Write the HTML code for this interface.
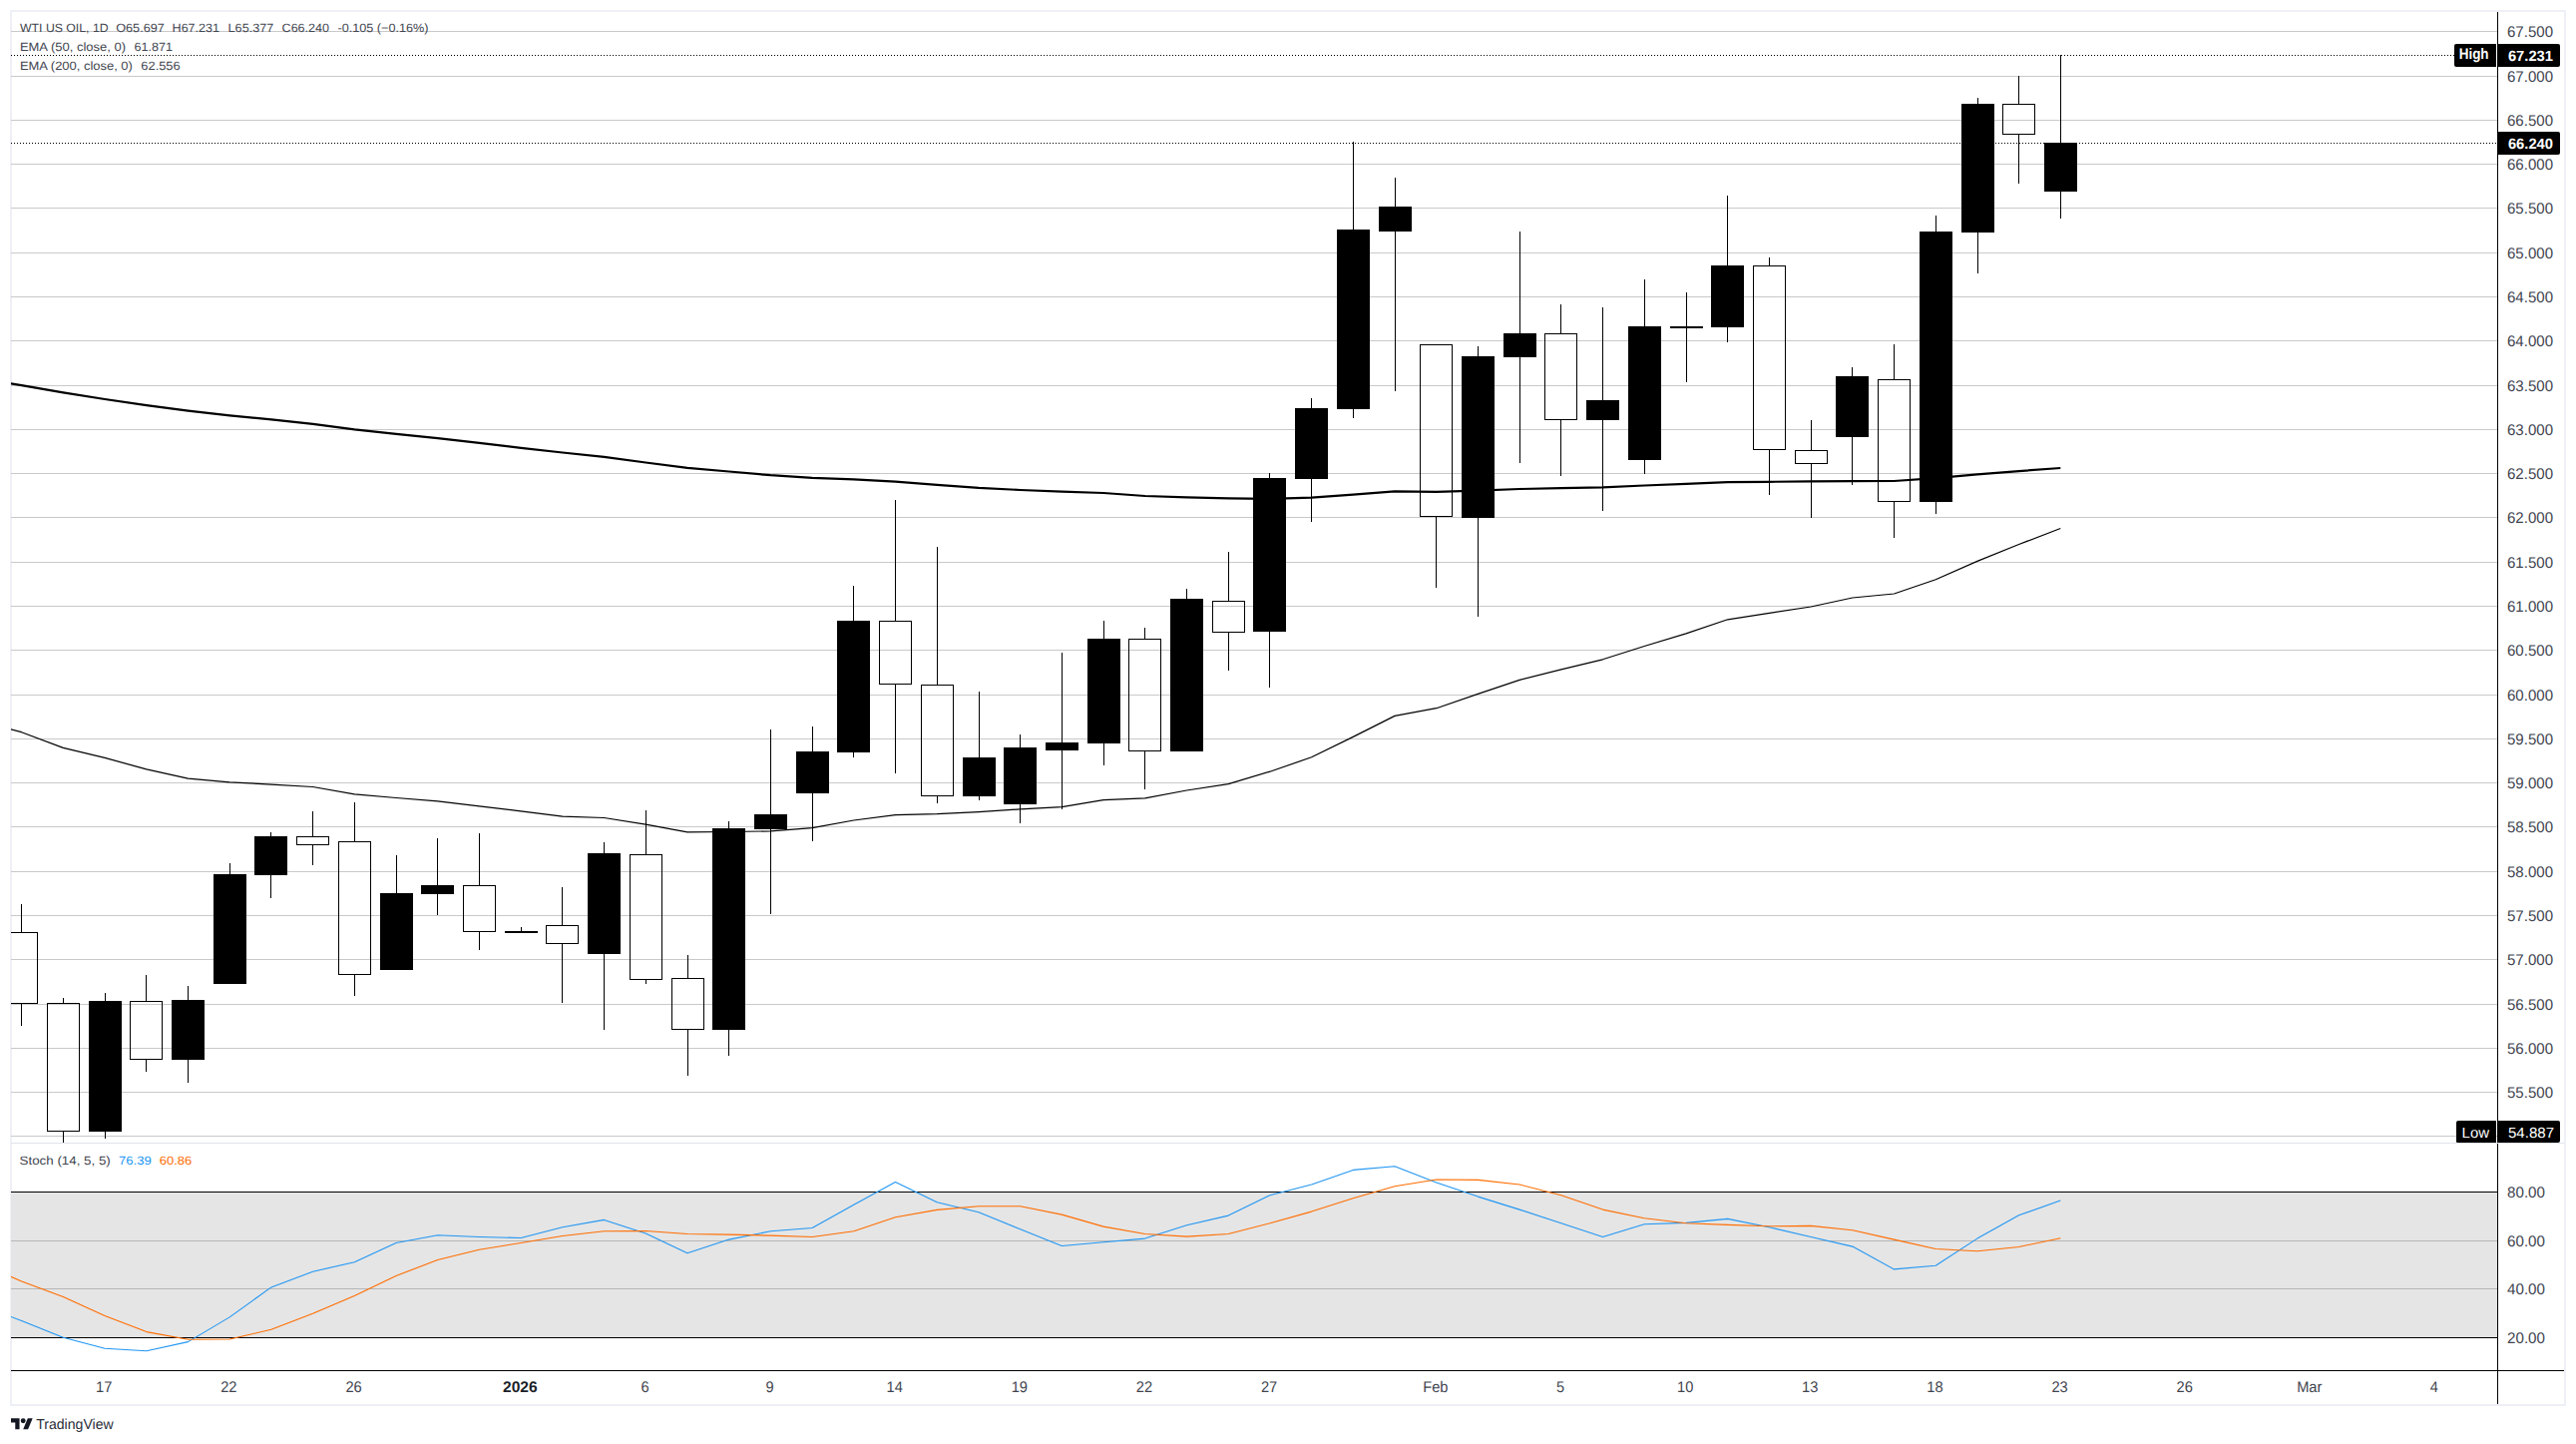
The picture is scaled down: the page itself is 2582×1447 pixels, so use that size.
<!DOCTYPE html>
<html lang="en"><head><meta charset="utf-8"><title>WTI US OIL, 1D</title>
<style>html,body{margin:0;padding:0;background:#fff}body{width:2582px;height:1447px;overflow:hidden}svg{display:block;text-rendering:geometricPrecision}text{font-family:"Liberation Sans", "DejaVu Sans", sans-serif;text-rendering:geometricPrecision}</style>
</head><body>
<svg width="2582" height="1447" viewBox="0 0 2582 1447">
<rect width="2582" height="1447" fill="#fff"/>
<defs><clipPath id="cp"><rect x="11" y="12" width="2492" height="1133"/></clipPath><clipPath id="cs"><rect x="11" y="1146" width="2492" height="227"/></clipPath></defs>
<g shape-rendering="crispEdges" fill="#eff0f5">
<rect x="10" y="10" width="2562" height="2"/>
<rect x="10" y="1407" width="2562" height="2"/>
<rect x="10" y="10" width="2" height="1399"/>
<rect x="2570" y="10" width="2" height="1399"/>
</g>
<g shape-rendering="crispEdges" fill="#c9c9c9">
<rect x="11" y="31" width="2492" height="1"/>
<rect x="11" y="76" width="2492" height="1"/>
<rect x="11" y="120" width="2492" height="1"/>
<rect x="11" y="164" width="2492" height="1"/>
<rect x="11" y="208" width="2492" height="1"/>
<rect x="11" y="253" width="2492" height="1"/>
<rect x="11" y="297" width="2492" height="1"/>
<rect x="11" y="341" width="2492" height="1"/>
<rect x="11" y="386" width="2492" height="1"/>
<rect x="11" y="430" width="2492" height="1"/>
<rect x="11" y="474" width="2492" height="1"/>
<rect x="11" y="518" width="2492" height="1"/>
<rect x="11" y="563" width="2492" height="1"/>
<rect x="11" y="607" width="2492" height="1"/>
<rect x="11" y="651" width="2492" height="1"/>
<rect x="11" y="696" width="2492" height="1"/>
<rect x="11" y="740" width="2492" height="1"/>
<rect x="11" y="784" width="2492" height="1"/>
<rect x="11" y="828" width="2492" height="1"/>
<rect x="11" y="873" width="2492" height="1"/>
<rect x="11" y="917" width="2492" height="1"/>
<rect x="11" y="961" width="2492" height="1"/>
<rect x="11" y="1006" width="2492" height="1"/>
<rect x="11" y="1050" width="2492" height="1"/>
<rect x="11" y="1094" width="2492" height="1"/>
<rect x="11" y="1138" width="2492" height="1"/>
</g>
<g>
<text x="20.0" y="32.0" font-size="12" fill="#42454f" textLength="88.6" lengthAdjust="spacingAndGlyphs">WTI US OIL, 1D</text>
<text x="116.2" y="32.0" font-size="12" fill="#42454f" textLength="48.6" lengthAdjust="spacingAndGlyphs">O65.697</text>
<text x="172.6" y="32.0" font-size="12" fill="#42454f" textLength="47.4" lengthAdjust="spacingAndGlyphs">H67.231</text>
<text x="228.6" y="32.0" font-size="12" fill="#42454f" textLength="45.7" lengthAdjust="spacingAndGlyphs">L65.377</text>
<text x="282.6" y="32.0" font-size="12" fill="#42454f" textLength="47.4" lengthAdjust="spacingAndGlyphs">C66.240</text>
<text x="338.6" y="32.0" font-size="12" fill="#42454f" textLength="90.8" lengthAdjust="spacingAndGlyphs">-0.105 (−0.16%)</text>
<text x="19.9" y="50.7" font-size="12" fill="#42454f" textLength="106.1" lengthAdjust="spacingAndGlyphs">EMA (50, close, 0)</text>
<text x="134.4" y="50.7" font-size="12" fill="#42454f" textLength="38.6" lengthAdjust="spacingAndGlyphs">61.871</text>
<text x="19.9" y="69.8" font-size="12" fill="#42454f" textLength="113.0" lengthAdjust="spacingAndGlyphs">EMA (200, close, 0)</text>
<text x="141.3" y="69.8" font-size="12" fill="#42454f" textLength="39.4" lengthAdjust="spacingAndGlyphs">62.556</text>
</g>
<g shape-rendering="crispEdges">
<rect x="11" y="1194" width="2492" height="146" fill="#e5e5e5"/>
<rect x="11" y="1243" width="2492" height="1" fill="#b6b6b6"/>
<rect x="11" y="1291" width="2492" height="1" fill="#b6b6b6"/>
<rect x="11" y="1194" width="2492" height="1" fill="#000"/>
<rect x="11" y="1340" width="2492" height="1" fill="#000"/>
</g>
<g shape-rendering="crispEdges" stroke="#000" stroke-width="1" stroke-dasharray="1 2">
<line x1="11" y1="55.5" x2="2461" y2="55.5"/>
<line x1="11" y1="143.5" x2="2503" y2="143.5"/>
</g>
<g clip-path="url(#cp)" shape-rendering="crispEdges">
<rect x="21" y="906" width="1" height="28" fill="#000"/>
<rect x="21" y="1006" width="1" height="22" fill="#000"/>
<rect x="5.5" y="934.5" width="32" height="71" fill="none" stroke="#000" stroke-width="1"/>
<rect x="63" y="1000" width="1" height="5" fill="#000"/>
<rect x="63" y="1134" width="1" height="11" fill="#000"/>
<rect x="47.5" y="1005.5" width="32" height="128" fill="none" stroke="#000" stroke-width="1"/>
<rect x="105" y="995" width="1" height="146" fill="#000"/>
<rect x="89" y="1003" width="33" height="131" fill="#000"/>
<rect x="146" y="977" width="1" height="26" fill="#000"/>
<rect x="146" y="1062" width="1" height="12" fill="#000"/>
<rect x="130.5" y="1003.5" width="32" height="58" fill="none" stroke="#000" stroke-width="1"/>
<rect x="188" y="988" width="1" height="97" fill="#000"/>
<rect x="172" y="1002" width="33" height="60" fill="#000"/>
<rect x="230" y="865" width="1" height="121" fill="#000"/>
<rect x="214" y="876" width="33" height="110" fill="#000"/>
<rect x="271" y="834" width="1" height="66" fill="#000"/>
<rect x="255" y="838" width="33" height="39" fill="#000"/>
<rect x="313" y="813" width="1" height="25" fill="#000"/>
<rect x="313" y="847" width="1" height="20" fill="#000"/>
<rect x="297.5" y="838.5" width="32" height="8" fill="none" stroke="#000" stroke-width="1"/>
<rect x="355" y="804" width="1" height="39" fill="#000"/>
<rect x="355" y="977" width="1" height="21" fill="#000"/>
<rect x="339.5" y="843.5" width="32" height="133" fill="none" stroke="#000" stroke-width="1"/>
<rect x="397" y="857" width="1" height="115" fill="#000"/>
<rect x="381" y="895" width="33" height="77" fill="#000"/>
<rect x="438" y="840" width="1" height="77" fill="#000"/>
<rect x="422" y="887" width="33" height="9" fill="#000"/>
<rect x="480" y="835" width="1" height="52" fill="#000"/>
<rect x="480" y="934" width="1" height="18" fill="#000"/>
<rect x="464.5" y="887.5" width="32" height="46" fill="none" stroke="#000" stroke-width="1"/>
<rect x="522" y="929" width="1" height="6" fill="#000"/>
<rect x="506" y="933" width="33" height="2" fill="#000"/>
<rect x="563" y="889" width="1" height="38" fill="#000"/>
<rect x="563" y="946" width="1" height="59" fill="#000"/>
<rect x="547.5" y="927.5" width="32" height="18" fill="none" stroke="#000" stroke-width="1"/>
<rect x="605" y="844" width="1" height="188" fill="#000"/>
<rect x="589" y="855" width="33" height="101" fill="#000"/>
<rect x="647" y="812" width="1" height="44" fill="#000"/>
<rect x="647" y="982" width="1" height="4" fill="#000"/>
<rect x="631.5" y="856.5" width="32" height="125" fill="none" stroke="#000" stroke-width="1"/>
<rect x="689" y="957" width="1" height="23" fill="#000"/>
<rect x="689" y="1032" width="1" height="46" fill="#000"/>
<rect x="673.5" y="980.5" width="32" height="51" fill="none" stroke="#000" stroke-width="1"/>
<rect x="730" y="823" width="1" height="235" fill="#000"/>
<rect x="714" y="830" width="33" height="202" fill="#000"/>
<rect x="772" y="731" width="1" height="185" fill="#000"/>
<rect x="756" y="816" width="33" height="15" fill="#000"/>
<rect x="814" y="728" width="1" height="115" fill="#000"/>
<rect x="798" y="753" width="33" height="42" fill="#000"/>
<rect x="855" y="587" width="1" height="172" fill="#000"/>
<rect x="839" y="622" width="33" height="132" fill="#000"/>
<rect x="897" y="501" width="1" height="121" fill="#000"/>
<rect x="897" y="686" width="1" height="89" fill="#000"/>
<rect x="881.5" y="622.5" width="32" height="63" fill="none" stroke="#000" stroke-width="1"/>
<rect x="939" y="548" width="1" height="138" fill="#000"/>
<rect x="939" y="798" width="1" height="7" fill="#000"/>
<rect x="923.5" y="686.5" width="32" height="111" fill="none" stroke="#000" stroke-width="1"/>
<rect x="981" y="693" width="1" height="109" fill="#000"/>
<rect x="965" y="759" width="33" height="39" fill="#000"/>
<rect x="1022" y="736" width="1" height="89" fill="#000"/>
<rect x="1006" y="749" width="33" height="57" fill="#000"/>
<rect x="1064" y="654" width="1" height="157" fill="#000"/>
<rect x="1048" y="744" width="33" height="8" fill="#000"/>
<rect x="1106" y="622" width="1" height="145" fill="#000"/>
<rect x="1090" y="640" width="33" height="105" fill="#000"/>
<rect x="1147" y="629" width="1" height="11" fill="#000"/>
<rect x="1147" y="753" width="1" height="38" fill="#000"/>
<rect x="1131.5" y="640.5" width="32" height="112" fill="none" stroke="#000" stroke-width="1"/>
<rect x="1189" y="590" width="1" height="163" fill="#000"/>
<rect x="1173" y="600" width="33" height="153" fill="#000"/>
<rect x="1231" y="553" width="1" height="49" fill="#000"/>
<rect x="1231" y="634" width="1" height="38" fill="#000"/>
<rect x="1215.5" y="602.5" width="32" height="31" fill="none" stroke="#000" stroke-width="1"/>
<rect x="1272" y="474" width="1" height="215" fill="#000"/>
<rect x="1256" y="479" width="33" height="154" fill="#000"/>
<rect x="1314" y="399" width="1" height="124" fill="#000"/>
<rect x="1298" y="409" width="33" height="71" fill="#000"/>
<rect x="1356" y="142" width="1" height="277" fill="#000"/>
<rect x="1340" y="230" width="33" height="180" fill="#000"/>
<rect x="1398" y="178" width="1" height="214" fill="#000"/>
<rect x="1382" y="207" width="33" height="25" fill="#000"/>
<rect x="1439" y="518" width="1" height="71" fill="#000"/>
<rect x="1423.5" y="345.5" width="32" height="172" fill="none" stroke="#000" stroke-width="1"/>
<rect x="1481" y="347" width="1" height="271" fill="#000"/>
<rect x="1465" y="357" width="33" height="162" fill="#000"/>
<rect x="1523" y="232" width="1" height="232" fill="#000"/>
<rect x="1507" y="334" width="33" height="24" fill="#000"/>
<rect x="1564" y="305" width="1" height="29" fill="#000"/>
<rect x="1564" y="421" width="1" height="56" fill="#000"/>
<rect x="1548.5" y="334.5" width="32" height="86" fill="none" stroke="#000" stroke-width="1"/>
<rect x="1606" y="308" width="1" height="204" fill="#000"/>
<rect x="1590" y="401" width="33" height="20" fill="#000"/>
<rect x="1648" y="280" width="1" height="195" fill="#000"/>
<rect x="1632" y="327" width="33" height="134" fill="#000"/>
<rect x="1690" y="293" width="1" height="90" fill="#000"/>
<rect x="1674" y="327" width="33" height="2" fill="#000"/>
<rect x="1731" y="196" width="1" height="147" fill="#000"/>
<rect x="1715" y="266" width="33" height="62" fill="#000"/>
<rect x="1773" y="258" width="1" height="8" fill="#000"/>
<rect x="1773" y="451" width="1" height="45" fill="#000"/>
<rect x="1757.5" y="266.5" width="32" height="184" fill="none" stroke="#000" stroke-width="1"/>
<rect x="1815" y="421" width="1" height="30" fill="#000"/>
<rect x="1815" y="465" width="1" height="54" fill="#000"/>
<rect x="1799.5" y="451.5" width="32" height="13" fill="none" stroke="#000" stroke-width="1"/>
<rect x="1856" y="368" width="1" height="118" fill="#000"/>
<rect x="1840" y="377" width="33" height="61" fill="#000"/>
<rect x="1898" y="345" width="1" height="35" fill="#000"/>
<rect x="1898" y="503" width="1" height="36" fill="#000"/>
<rect x="1882.5" y="380.5" width="32" height="122" fill="none" stroke="#000" stroke-width="1"/>
<rect x="1940" y="216" width="1" height="299" fill="#000"/>
<rect x="1924" y="232" width="33" height="271" fill="#000"/>
<rect x="1982" y="98" width="1" height="176" fill="#000"/>
<rect x="1966" y="104" width="33" height="129" fill="#000"/>
<rect x="2023" y="76" width="1" height="28" fill="#000"/>
<rect x="2023" y="135" width="1" height="49" fill="#000"/>
<rect x="2007.5" y="104.5" width="32" height="30" fill="none" stroke="#000" stroke-width="1"/>
<rect x="2065" y="55" width="1" height="164" fill="#000"/>
<rect x="2049" y="143" width="33" height="49" fill="#000"/>
</g>
<g clip-path="url(#cp)">
<polyline fill="none" stroke="#000" stroke-width="1.2" stroke-linejoin="round" points="10.5,730.7 21.6,733.7 63.3,749.4 105.0,759.4 146.8,770.8 188.5,780.1 230.2,783.8 271.9,786.1 313.6,788.5 355.3,795.8 397.0,799.5 438.7,802.8 480.4,807.8 522.1,812.8 563.8,818.2 605.5,819.5 647.2,826.2 689.0,833.9 730.7,833.5 772.4,832.9 814.1,829.7 855.8,822.0 897.5,816.6 939.2,815.6 980.9,813.6 1022.6,810.9 1064.3,808.7 1106.0,801.7 1147.7,799.8 1189.5,792.0 1231.2,785.6 1272.9,773.2 1314.6,758.8 1356.3,738.4 1398.0,717.4 1439.7,709.7 1481.4,695.4 1523.1,681.4 1564.8,670.9 1606.5,660.8 1648.2,647.5 1690.0,634.9 1731.7,620.8 1773.4,614.3 1815.1,608.0 1856.8,599.0 1898.5,595.0 1940.2,580.8 1981.9,562.4 2023.6,545.5 2065.3,529.5"/>
<polyline fill="none" stroke="#000" stroke-width="2.2" stroke-linejoin="round" points="10.5,384.2 21.6,386.2 63.3,393.4 105.0,400.0 146.8,406.1 188.5,411.7 230.2,416.4 271.9,420.4 313.6,424.8 355.3,430.4 397.0,434.8 438.7,439.1 480.4,443.8 522.1,448.8 563.8,453.5 605.5,457.8 647.2,463.5 689.0,468.8 730.7,472.5 772.4,476.2 814.1,478.8 855.8,480.3 897.5,482.7 939.2,485.8 980.9,488.9 1022.6,491.0 1064.3,492.7 1106.0,494.0 1147.7,497.0 1189.5,498.3 1231.2,499.4 1272.9,499.9 1314.6,498.7 1356.3,495.6 1398.0,492.4 1439.7,492.8 1481.4,491.6 1523.1,490.0 1564.8,489.2 1606.5,488.4 1648.2,486.5 1690.0,484.9 1731.7,483.2 1773.4,482.8 1815.1,482.4 1856.8,482.2 1898.5,482.0 1940.2,479.2 1981.9,475.3 2023.6,472.1 2065.3,469.0"/>
</g>
<g clip-path="url(#cs)">
<polyline fill="none" stroke="#2196f3" stroke-width="1.1" stroke-linejoin="round" points="10.5,1319.3 21.6,1323.6 63.3,1340.3 105.0,1351.3 146.8,1353.7 188.5,1344.6 230.2,1319.9 271.9,1289.9 313.6,1274.2 355.3,1264.8 397.0,1245.5 438.7,1237.8 480.4,1239.5 522.1,1240.5 563.8,1229.8 605.5,1222.4 647.2,1236.1 689.0,1255.8 730.7,1242.1 772.4,1233.8 814.1,1230.5 855.8,1207.2 897.5,1184.4 939.2,1204.7 980.9,1214.8 1022.6,1231.8 1064.3,1248.5 1106.0,1244.8 1147.7,1241.1 1189.5,1227.8 1231.2,1218.1 1272.9,1197.7 1314.6,1187.0 1356.3,1172.4 1398.0,1168.7 1439.7,1185.0 1481.4,1199.1 1523.1,1212.1 1564.8,1225.8 1606.5,1239.5 1648.2,1226.8 1690.0,1225.4 1731.7,1221.4 1773.4,1229.8 1815.1,1239.5 1856.8,1249.1 1898.5,1271.9 1940.2,1268.2 1981.9,1241.1 2023.6,1217.8 2065.3,1202.9"/>
<polyline fill="none" stroke="#ff6d00" stroke-width="1.1" stroke-linejoin="round" points="10.5,1279.1 21.6,1283.9 63.3,1299.6 105.0,1318.6 146.8,1334.6 188.5,1342.3 230.2,1342.0 271.9,1332.3 313.6,1316.3 355.3,1298.6 397.0,1278.5 438.7,1262.5 480.4,1252.2 522.1,1245.5 563.8,1238.5 605.5,1233.8 647.2,1233.5 689.0,1236.5 730.7,1237.1 772.4,1238.1 814.1,1239.5 855.8,1233.8 897.5,1219.8 939.2,1212.4 980.9,1208.7 1022.6,1208.7 1064.3,1217.1 1106.0,1229.1 1147.7,1236.5 1189.5,1239.1 1231.2,1236.5 1272.9,1225.8 1314.6,1214.1 1356.3,1200.7 1398.0,1188.7 1439.7,1182.0 1481.4,1182.4 1523.1,1187.0 1564.8,1197.7 1606.5,1212.1 1648.2,1220.8 1690.0,1225.8 1731.7,1227.4 1773.4,1228.8 1815.1,1228.4 1856.8,1232.8 1898.5,1242.1 1940.2,1251.5 1981.9,1253.8 2023.6,1249.5 2065.3,1240.7"/>
</g>
<text x="19.6" y="1166.8" font-size="12" fill="#42454f" textLength="91.2" lengthAdjust="spacingAndGlyphs">Stoch (14, 5, 5)</text>
<text x="119.0" y="1166.8" font-size="12" fill="#2196f3" textLength="32.8" lengthAdjust="spacingAndGlyphs">76.39</text>
<text x="159.7" y="1166.8" font-size="12" fill="#ff6d00" textLength="32.6" lengthAdjust="spacingAndGlyphs">60.86</text>
<g shape-rendering="crispEdges" fill="#000">
<rect x="2503" y="12" width="1" height="1395"/>
<rect x="11" y="1373" width="2559" height="1"/>
</g>
<rect x="11" y="1145" width="2559" height="1" fill="#e0e3eb" shape-rendering="crispEdges"/>
<text x="2513.0" y="37.0" font-size="15.4" fill="#42454f" textLength="46.0" lengthAdjust="spacingAndGlyphs">67.500</text>
<text x="2513.0" y="82.0" font-size="15.4" fill="#42454f" textLength="46.0" lengthAdjust="spacingAndGlyphs">67.000</text>
<text x="2513.0" y="126.0" font-size="15.4" fill="#42454f" textLength="46.0" lengthAdjust="spacingAndGlyphs">66.500</text>
<text x="2513.0" y="170.0" font-size="15.4" fill="#42454f" textLength="46.0" lengthAdjust="spacingAndGlyphs">66.000</text>
<text x="2513.0" y="214.0" font-size="15.4" fill="#42454f" textLength="46.0" lengthAdjust="spacingAndGlyphs">65.500</text>
<text x="2513.0" y="259.0" font-size="15.4" fill="#42454f" textLength="46.0" lengthAdjust="spacingAndGlyphs">65.000</text>
<text x="2513.0" y="303.0" font-size="15.4" fill="#42454f" textLength="46.0" lengthAdjust="spacingAndGlyphs">64.500</text>
<text x="2513.0" y="347.0" font-size="15.4" fill="#42454f" textLength="46.0" lengthAdjust="spacingAndGlyphs">64.000</text>
<text x="2513.0" y="392.0" font-size="15.4" fill="#42454f" textLength="46.0" lengthAdjust="spacingAndGlyphs">63.500</text>
<text x="2513.0" y="436.0" font-size="15.4" fill="#42454f" textLength="46.0" lengthAdjust="spacingAndGlyphs">63.000</text>
<text x="2513.0" y="480.0" font-size="15.4" fill="#42454f" textLength="46.0" lengthAdjust="spacingAndGlyphs">62.500</text>
<text x="2513.0" y="524.0" font-size="15.4" fill="#42454f" textLength="46.0" lengthAdjust="spacingAndGlyphs">62.000</text>
<text x="2513.0" y="569.0" font-size="15.4" fill="#42454f" textLength="46.0" lengthAdjust="spacingAndGlyphs">61.500</text>
<text x="2513.0" y="613.0" font-size="15.4" fill="#42454f" textLength="46.0" lengthAdjust="spacingAndGlyphs">61.000</text>
<text x="2513.0" y="657.0" font-size="15.4" fill="#42454f" textLength="46.0" lengthAdjust="spacingAndGlyphs">60.500</text>
<text x="2513.0" y="702.0" font-size="15.4" fill="#42454f" textLength="46.0" lengthAdjust="spacingAndGlyphs">60.000</text>
<text x="2513.0" y="746.0" font-size="15.4" fill="#42454f" textLength="46.0" lengthAdjust="spacingAndGlyphs">59.500</text>
<text x="2513.0" y="790.0" font-size="15.4" fill="#42454f" textLength="46.0" lengthAdjust="spacingAndGlyphs">59.000</text>
<text x="2513.0" y="834.0" font-size="15.4" fill="#42454f" textLength="46.0" lengthAdjust="spacingAndGlyphs">58.500</text>
<text x="2513.0" y="879.0" font-size="15.4" fill="#42454f" textLength="46.0" lengthAdjust="spacingAndGlyphs">58.000</text>
<text x="2513.0" y="923.0" font-size="15.4" fill="#42454f" textLength="46.0" lengthAdjust="spacingAndGlyphs">57.500</text>
<text x="2513.0" y="967.0" font-size="15.4" fill="#42454f" textLength="46.0" lengthAdjust="spacingAndGlyphs">57.000</text>
<text x="2513.0" y="1012.0" font-size="15.4" fill="#42454f" textLength="46.0" lengthAdjust="spacingAndGlyphs">56.500</text>
<text x="2513.0" y="1056.0" font-size="15.4" fill="#42454f" textLength="46.0" lengthAdjust="spacingAndGlyphs">56.000</text>
<text x="2513.0" y="1100.0" font-size="15.4" fill="#42454f" textLength="46.0" lengthAdjust="spacingAndGlyphs">55.500</text>
<text x="2513.0" y="1200.0" font-size="15.4" fill="#42454f" textLength="38.0" lengthAdjust="spacingAndGlyphs">80.00</text>
<text x="2513.0" y="1249.0" font-size="15.4" fill="#42454f" textLength="38.0" lengthAdjust="spacingAndGlyphs">60.00</text>
<text x="2513.0" y="1297.0" font-size="15.4" fill="#42454f" textLength="38.0" lengthAdjust="spacingAndGlyphs">40.00</text>
<text x="2513.0" y="1346.0" font-size="15.4" fill="#42454f" textLength="38.0" lengthAdjust="spacingAndGlyphs">20.00</text>
<path fill="#000" d="M2462 44 H2502 V67 H2462 A2 2 0 0 1 2460 65 V46 A2 2 0 0 1 2462 44 Z"/>
<path fill="#000" d="M2503 44 H2564 A2 2 0 0 1 2566 46 V65 A2 2 0 0 1 2564 67 H2503 V44 Z"/>
<text x="2464.7" y="59.0" font-size="15.2" fill="#fff" font-weight="bold" textLength="29.9" lengthAdjust="spacingAndGlyphs">High</text>
<text x="2513.9" y="61.0" font-size="14.7" fill="#fff" font-weight="bold" textLength="45.1" lengthAdjust="spacingAndGlyphs">67.231</text>
<path fill="#000" d="M2503 132 H2564 A2 2 0 0 1 2566 134 V153 A2 2 0 0 1 2564 155 H2503 V132 Z"/>
<text x="2513.9" y="149.0" font-size="14.7" fill="#fff" font-weight="bold" textLength="45.1" lengthAdjust="spacingAndGlyphs">66.240</text>
<path fill="#000" d="M2464 1123 H2502 V1145 H2463 A1 1 0 0 1 2462 1144 V1125 A2 2 0 0 1 2464 1123 Z"/>
<path fill="#000" d="M2503 1123 H2564 A2 2 0 0 1 2566 1125 V1143 A2 2 0 0 1 2564 1145 H2503 V1123 Z"/>
<text x="2467.6" y="1139.9" font-size="14.6" fill="#fff" textLength="27.4" lengthAdjust="spacingAndGlyphs">Low</text>
<text x="2514.0" y="1140.0" font-size="14.6" fill="#fff" textLength="46.0" lengthAdjust="spacingAndGlyphs">54.887</text>
<text x="96.1" y="1395.0" font-size="15.4" fill="#42454f" textLength="16.3" lengthAdjust="spacingAndGlyphs">17</text>
<text x="221.2" y="1395.0" font-size="15.4" fill="#42454f" textLength="16.3" lengthAdjust="spacingAndGlyphs">22</text>
<text x="346.4" y="1395.0" font-size="15.4" fill="#42454f" textLength="16.3" lengthAdjust="spacingAndGlyphs">26</text>
<text x="504.0" y="1395.0" font-size="15.4" fill="#1c1f2a" font-weight="bold" textLength="34.6" lengthAdjust="spacingAndGlyphs">2026</text>
<text x="642.4" y="1395.0" font-size="15.4" fill="#42454f" textLength="8.1" lengthAdjust="spacingAndGlyphs">6</text>
<text x="767.5" y="1395.0" font-size="15.4" fill="#42454f" textLength="8.1" lengthAdjust="spacingAndGlyphs">9</text>
<text x="888.6" y="1395.0" font-size="15.4" fill="#42454f" textLength="16.3" lengthAdjust="spacingAndGlyphs">14</text>
<text x="1013.7" y="1395.0" font-size="15.4" fill="#42454f" textLength="16.3" lengthAdjust="spacingAndGlyphs">19</text>
<text x="1138.8" y="1395.0" font-size="15.4" fill="#42454f" textLength="16.3" lengthAdjust="spacingAndGlyphs">22</text>
<text x="1263.9" y="1395.0" font-size="15.4" fill="#42454f" textLength="16.3" lengthAdjust="spacingAndGlyphs">27</text>
<text x="1426.3" y="1395.0" font-size="15.4" fill="#42454f" textLength="25.2" lengthAdjust="spacingAndGlyphs">Feb</text>
<text x="1560.0" y="1395.0" font-size="15.4" fill="#42454f" textLength="8.1" lengthAdjust="spacingAndGlyphs">5</text>
<text x="1681.0" y="1395.0" font-size="15.4" fill="#42454f" textLength="16.3" lengthAdjust="spacingAndGlyphs">10</text>
<text x="1806.1" y="1395.0" font-size="15.4" fill="#42454f" textLength="16.3" lengthAdjust="spacingAndGlyphs">13</text>
<text x="1931.3" y="1395.0" font-size="15.4" fill="#42454f" textLength="16.3" lengthAdjust="spacingAndGlyphs">18</text>
<text x="2056.4" y="1395.0" font-size="15.4" fill="#42454f" textLength="16.3" lengthAdjust="spacingAndGlyphs">23</text>
<text x="2181.5" y="1395.0" font-size="15.4" fill="#42454f" textLength="16.3" lengthAdjust="spacingAndGlyphs">26</text>
<text x="2302.2" y="1395.0" font-size="15.4" fill="#42454f" textLength="25.2" lengthAdjust="spacingAndGlyphs">Mar</text>
<text x="2435.8" y="1395.0" font-size="15.4" fill="#42454f" textLength="8.1" lengthAdjust="spacingAndGlyphs">4</text>
<g transform="translate(11.0,1418.86) scale(0.611)" fill="#131722">
<path d="M14 22H7V11H0V4h14v18z"/><circle cx="20" cy="8" r="4"/><path d="M28 22h-8l7.5-18h8L28 22z"/>
</g>
<text x="36.2" y="1432.3" font-size="14.4" fill="#2a2e39" textLength="77.5" lengthAdjust="spacingAndGlyphs">TradingView</text>
</svg></body></html>
